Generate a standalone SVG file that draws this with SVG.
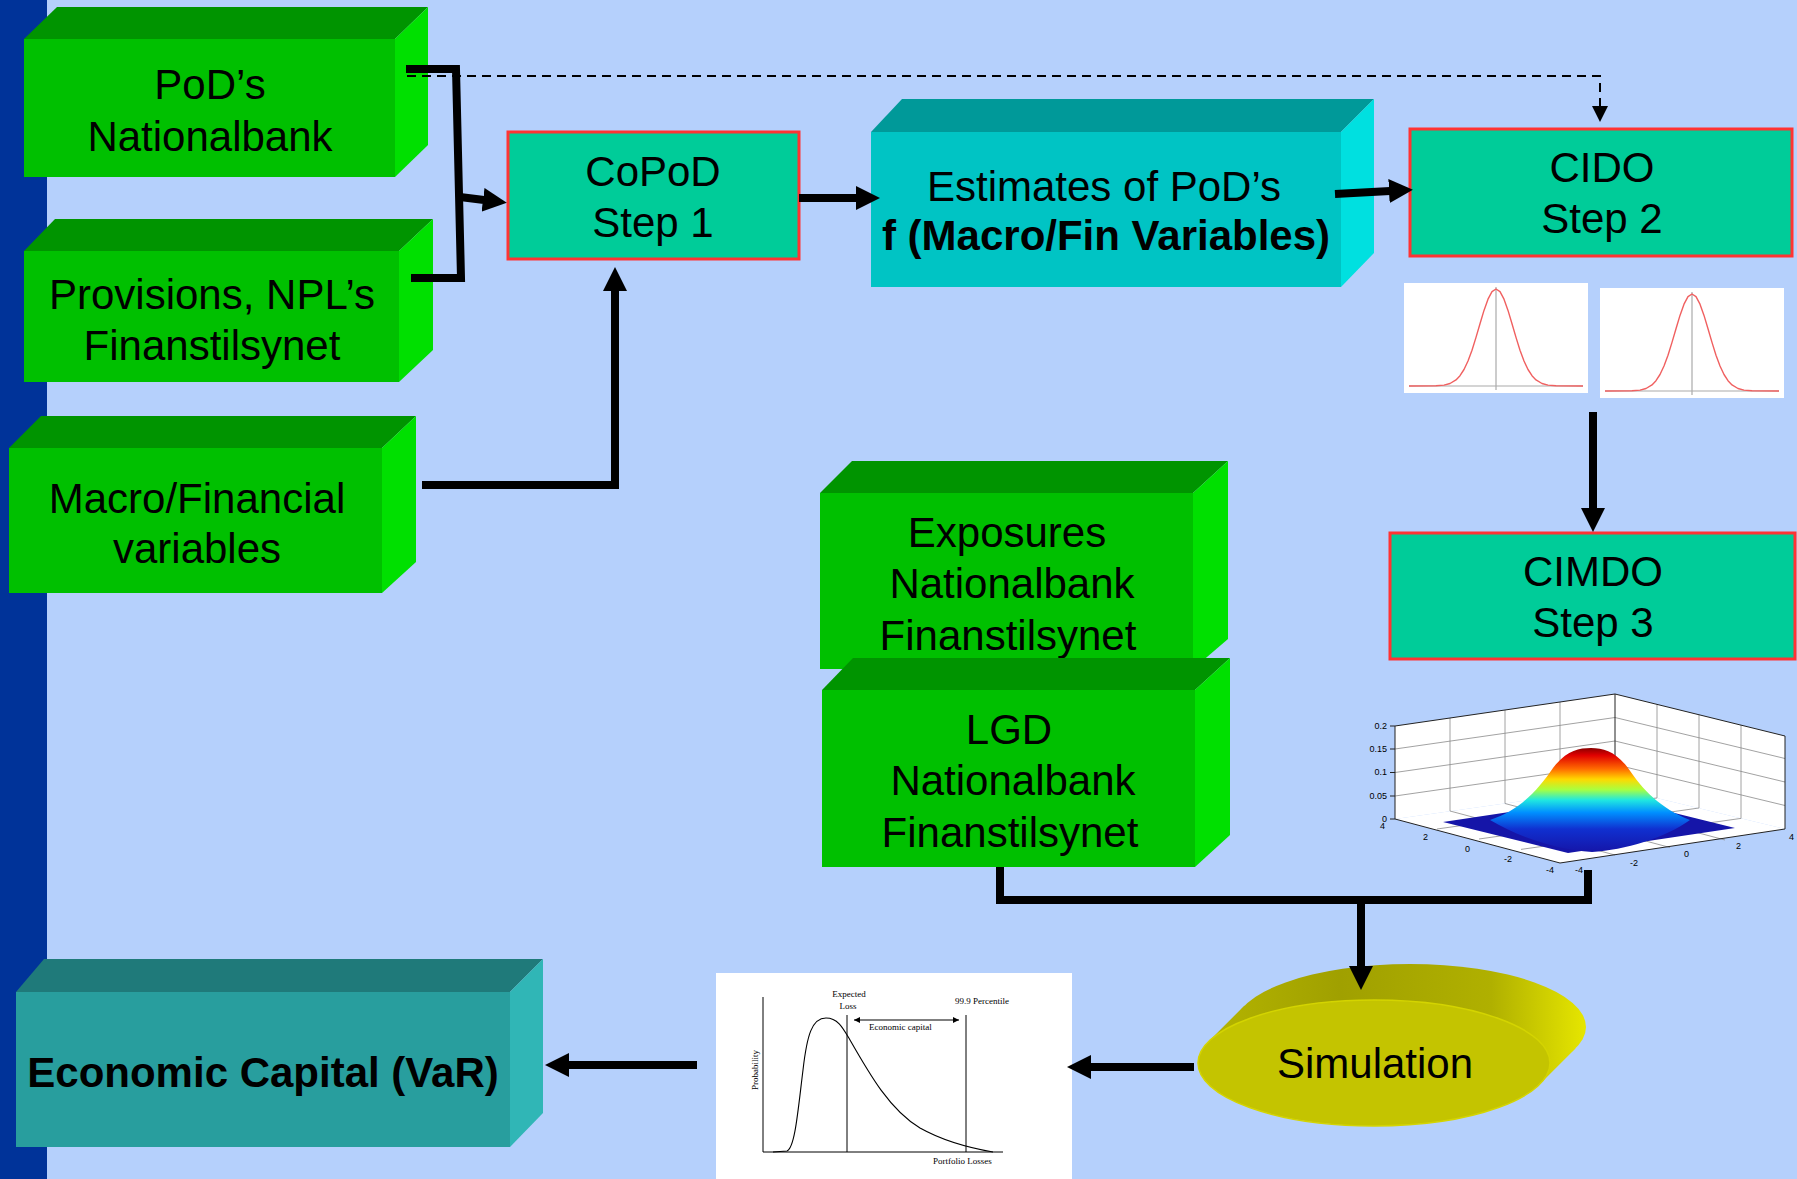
<svg xmlns="http://www.w3.org/2000/svg" width="1797" height="1179" viewBox="0 0 1797 1179">
<style>
  .t { font-family: "Liberation Sans", Arial, sans-serif; font-size: 42px; fill: #000; text-anchor: middle; }
  .b { font-weight: bold; }
  .gf { fill: #00C000; } .gt { fill: #009400; } .gr { fill: #00E000; }
  .cf { fill: #00C4C4; } .ct { fill: #009999; } .cr { fill: #00E0E0; }
  .ef { fill: #289E9E; } .et { fill: #1F7A7A; } .er { fill: #30B6B6; }
  .step { fill: #00CC99; stroke: #FF3333; stroke-width: 3; }
  .conn { fill: none; stroke: #000; stroke-width: 8; stroke-linejoin: miter; }
  .dash { fill: none; stroke: #000; stroke-width: 2; stroke-dasharray: 9 6; }
  .grid { stroke: #8a8a8a; stroke-width: 0.8; fill: none; }
  .axis { stroke: #222; stroke-width: 1; fill: none; }
  .tick { font-family: "Liberation Sans", Arial, sans-serif; font-size: 9px; fill: #000; }
  .ser { font-family: "Liberation Serif", "Times New Roman", serif; font-size: 9px; fill: #000; }
</style>
<defs>
  <marker id="ah" viewBox="0 0 24 24" refX="1" refY="12" markerWidth="24" markerHeight="24" markerUnits="userSpaceOnUse" orient="auto">
    <path d="M0,0 L24,12 L0,24 Z" fill="#000"/>
  </marker>
  <marker id="ahs" viewBox="0 0 16 16" refX="1" refY="8" markerWidth="16" markerHeight="16" markerUnits="userSpaceOnUse" orient="auto">
    <path d="M0,0 L16,8 L0,16 Z" fill="#000"/>
  </marker>
  <marker id="tiny" viewBox="0 0 6 6" refX="6" refY="3" markerWidth="6" markerHeight="6" markerUnits="userSpaceOnUse" orient="auto-start-reverse">
    <path d="M0,0 L6,3 L0,6 Z" fill="#000"/>
  </marker>
  <linearGradient id="simSide" x1="1208" y1="0" x2="1586" y2="0" gradientUnits="userSpaceOnUse">
    <stop offset="0" stop-color="#B4B400"/>
    <stop offset="0.35" stop-color="#A0A000"/>
    <stop offset="0.75" stop-color="#B0B000"/>
    <stop offset="1" stop-color="#E6E600"/>
  </linearGradient>
  <linearGradient id="jet" x1="0" y1="748" x2="0" y2="852" gradientUnits="userSpaceOnUse">
    <stop offset="0" stop-color="#8B0000"/>
    <stop offset="0.07" stop-color="#E00000"/>
    <stop offset="0.2" stop-color="#FF6A00"/>
    <stop offset="0.3" stop-color="#FFD800"/>
    <stop offset="0.4" stop-color="#A8FF40"/>
    <stop offset="0.5" stop-color="#20E8E0"/>
    <stop offset="0.62" stop-color="#0090FF"/>
    <stop offset="0.78" stop-color="#1030D0"/>
    <stop offset="1" stop-color="#1515A8"/>
  </linearGradient>
  <g id="bell">
    <rect x="0" y="0" width="184" height="110" fill="#fff"/>
    <line x1="5" y1="103" x2="179" y2="103" stroke="#aaa" stroke-width="1.2"/>
    <line x1="92" y1="4" x2="92" y2="107" stroke="#aaa" stroke-width="1.2"/>
    <polyline fill="none" stroke="#F06060" stroke-width="1.4" stroke-linejoin="round" points="5,103 32,102.8 40,102.1 46,100.5 52,96.9 56,92.7 60,86.5 64,78 68,67.2 72,54.4 76,40.7 80,27.4 84,16.2 88,8.6 92,6 96,8.6 100,16.2 104,27.4 108,40.7 112,54.4 116,67.2 120,78 124,86.5 128,92.7 132,96.9 138,100.5 144,102.1 152,102.8 179,103"/>
  </g>
</defs>

<rect x="0" y="0" width="1797" height="1179" fill="#B5D0FC"/>
<rect x="0" y="0" width="47" height="1179" fill="#003399"/>

<g id="node-pods">
  <polygon class="gt" points="24,39 57,7 428,7 395,39"/>
  <polygon class="gr" points="395,39 428,7 428,145 395,177"/>
  <rect class="gf" x="24" y="39" width="371" height="138"/>
  <text class="t" x="210" y="99">PoD’s</text>
  <text class="t" x="210" y="151">Nationalbank</text>
</g>

<g id="node-provisions">
  <polygon class="gt" points="24,251 55,219 433,219 399,251"/>
  <polygon class="gr" points="399,251 433,219 433,350 399,382"/>
  <rect class="gf" x="24" y="251" width="375" height="131"/>
  <text class="t" x="212" y="309">Provisions, NPL’s</text>
  <text class="t" x="212" y="360">Finanstilsynet</text>
</g>

<g id="node-macro">
  <polygon class="gt" points="9,448 41,416 416,416 382,448"/>
  <polygon class="gr" points="382,448 416,416 416,562 382,593"/>
  <rect class="gf" x="9" y="448" width="373" height="145"/>
  <text class="t" x="197" y="513">Macro/Financial</text>
  <text class="t" x="197" y="563">variables</text>
</g>

<g id="node-copod">
  <rect class="step" x="508" y="132" width="291" height="127"/>
  <text class="t" x="653" y="186">CoPoD</text>
  <text class="t" x="653" y="237">Step 1</text>
</g>

<g id="node-estimates">
  <polygon class="ct" points="871,132 902,99 1374,99 1341,132"/>
  <polygon class="cr" points="1341,132 1374,99 1374,253 1341,287"/>
  <rect class="cf" x="871" y="132" width="470" height="155"/>
  <text class="t" x="1104" y="201">Estimates of PoD’s</text>
  <text class="t b" x="1106" y="250">f (Macro/Fin Variables)</text>
</g>

<g id="node-cido">
  <rect class="step" x="1410" y="129" width="382" height="127"/>
  <text class="t" x="1602" y="182">CIDO</text>
  <text class="t" x="1602" y="233">Step 2</text>
</g>

<g id="node-bells">
  <use href="#bell" x="1404" y="283"/>
  <use href="#bell" x="1600" y="288"/>
</g>

<g id="node-cimdo">
  <rect class="step" x="1390" y="533" width="405" height="126"/>
  <text class="t" x="1593" y="586">CIMDO</text>
  <text class="t" x="1593" y="637">Step 3</text>
</g>

<g id="node-surface">
  <polygon fill="#fff" points="1395,726 1615,694 1615,788 1395,819"/>
  <polygon fill="#fff" points="1615,694 1785,736 1785,829 1615,788"/>
  <polygon fill="#fff" points="1395,819 1615,788 1785,829 1560,863"/>
  <g class="grid">
    <line x1="1450" y1="718" x2="1450" y2="811"/>
    <line x1="1505" y1="710" x2="1505" y2="803.5"/>
    <line x1="1560" y1="702" x2="1560" y2="796"/>
    <line x1="1395" y1="796" x2="1615" y2="764.5"/>
    <line x1="1395" y1="772.5" x2="1615" y2="741"/>
    <line x1="1395" y1="749" x2="1615" y2="717.5"/>
    <line x1="1657" y1="704.4" x2="1657" y2="798"/>
    <line x1="1699" y1="714.8" x2="1699" y2="808"/>
    <line x1="1741" y1="725" x2="1741" y2="818.4"/>
    <line x1="1615" y1="764.5" x2="1785" y2="805.5"/>
    <line x1="1615" y1="741" x2="1785" y2="782"/>
    <line x1="1615" y1="717.5" x2="1785" y2="758.5"/>
    <line x1="1450" y1="811" x2="1615" y2="855"/>
    <line x1="1505" y1="803.5" x2="1670" y2="847.5"/>
    <line x1="1560" y1="796" x2="1725" y2="840"/>
    <line x1="1657" y1="798" x2="1437" y2="829"/>
    <line x1="1699" y1="808" x2="1479" y2="839"/>
    <line x1="1741" y1="818.4" x2="1521" y2="849.4"/>
  </g>
  <g class="axis">
    <polyline points="1395,726 1615,694 1785,736"/>
    <line x1="1615" y1="694" x2="1615" y2="788"/>
    <line x1="1395" y1="726" x2="1395" y2="819"/>
    <line x1="1785" y1="736" x2="1785" y2="829"/>
    <polyline points="1395,819 1560,863 1785,829"/>
    <line x1="1390" y1="726" x2="1395" y2="726"/>
    <line x1="1390" y1="749" x2="1395" y2="749"/>
    <line x1="1390" y1="772.5" x2="1395" y2="772.5"/>
    <line x1="1390" y1="796" x2="1395" y2="796"/>
    <line x1="1390" y1="819" x2="1395" y2="819"/>
  </g>
  <polygon fill="#1515A8" points="1443,822 1610,797 1735,828 1568,853"/>
  <path fill="url(#jet)" d="M1490,820 C1520,810 1538,790 1553,768 C1566,751 1578,748 1591,748 C1604,748 1616,752 1628,768 C1643,790 1660,808 1690,820 C1665,838 1625,850 1592,852 C1558,850 1520,838 1490,820 Z"/>
  <text class="tick" x="1387" y="729" text-anchor="end">0.2</text>
  <text class="tick" x="1387" y="752" text-anchor="end">0.15</text>
  <text class="tick" x="1387" y="775" text-anchor="end">0.1</text>
  <text class="tick" x="1387" y="799" text-anchor="end">0.05</text>
  <text class="tick" x="1387" y="822" text-anchor="end">0</text>
  <text class="tick" x="1380" y="829">4</text>
  <text class="tick" x="1423" y="840">2</text>
  <text class="tick" x="1465" y="852">0</text>
  <text class="tick" x="1504" y="862">-2</text>
  <text class="tick" x="1546" y="873">-4</text>
  <text class="tick" x="1575" y="873">-4</text>
  <text class="tick" x="1630" y="866">-2</text>
  <text class="tick" x="1684" y="857">0</text>
  <text class="tick" x="1736" y="849">2</text>
  <text class="tick" x="1789" y="840">4</text>
</g>

<g id="node-exposures">
  <polygon class="gt" points="820,493 852,461 1228,461 1193,493"/>
  <polygon class="gr" points="1193,493 1228,461 1228,639 1193,669"/>
  <rect class="gf" x="820" y="493" width="373" height="176"/>
  <text class="t" x="1007" y="547">Exposures</text>
  <text class="t" x="1012" y="598">Nationalbank</text>
  <text class="t" x="1008" y="650">Finanstilsynet</text>
</g>

<g id="node-lgd">
  <polygon class="gt" points="822,690 853,658 1230,658 1195,690"/>
  <polygon class="gr" points="1195,690 1230,658 1230,835 1195,867"/>
  <rect class="gf" x="822" y="690" width="373" height="177"/>
  <text class="t" x="1009" y="744">LGD</text>
  <text class="t" x="1013" y="795">Nationalbank</text>
  <text class="t" x="1010" y="847">Finanstilsynet</text>
</g>

<g id="node-simulation">
  <ellipse cx="1410" cy="1027" rx="176" ry="63" fill="url(#simSide)"/>
  <polygon fill="url(#simSide)" points="1208.3,1041.8 1244.3,1005.8 1575.7,1048.2 1539.7,1084.2"/>
  <ellipse cx="1374" cy="1063" rx="176" ry="63" fill="#C4C400" stroke="#D4D400" stroke-width="1.5"/>
  <text class="t" x="1375" y="1078">Simulation</text>
</g>

<g id="node-losschart">
  <rect x="716" y="973" width="356" height="206" fill="#fff"/>
  <g fill="none" stroke="#000" stroke-width="1">
    <line x1="763" y1="997" x2="763" y2="1152"/>
    <line x1="763" y1="1152" x2="1003" y2="1152"/>
    <line x1="847" y1="1015" x2="847" y2="1152"/>
    <line x1="966" y1="1015" x2="966" y2="1152"/>
    <path stroke-width="1.1" d="M773,1152 L787,1151 C795,1148 798,1110 803,1070 C807,1035 812,1018 826,1018 C838,1018 843,1028 850,1040 C870,1075 890,1110 920,1128 C945,1142 970,1148 993,1152"/>
    <line x1="854" y1="1020" x2="959" y2="1020" marker-start="url(#tiny)" marker-end="url(#tiny)"/>
  </g>
  <text class="ser" x="849" y="997" text-anchor="middle">Expected</text>
  <text class="ser" x="848" y="1009" text-anchor="middle">Loss</text>
  <text class="ser" x="955" y="1004">99.9 Percentile</text>
  <text class="ser" x="869" y="1030">Economic  capital</text>
  <text class="ser" x="933" y="1164">Portfolio Losses</text>
  <text class="ser" transform="translate(758,1070) rotate(-90)" text-anchor="middle">Probability</text>
</g>

<g id="node-econcap">
  <polygon class="et" points="16,992 44,959 543,959 510,992"/>
  <polygon class="er" points="510,992 543,959 543,1113 510,1147"/>
  <rect class="ef" x="16" y="992" width="494" height="155"/>
  <text class="t b" x="263" y="1087">Economic Capital (VaR)</text>
</g>

<g id="connectors">
  <path class="dash" d="M407,76 H1600 V107" marker-end="url(#ahs)"/>
  <polyline class="conn" points="406,69 456,69 461,278 411,278"/>
  <path class="conn" d="M460,197 L484,200" marker-end="url(#ah)"/>
  <polyline class="conn" points="422,485 615,485 615,290" marker-end="url(#ah)"/>
  <path class="conn" d="M799,198 L857,198" marker-end="url(#ah)"/>
  <path class="conn" d="M1335,194 L1390,191" marker-end="url(#ah)"/>
  <path class="conn" d="M1593,412 L1593,509" marker-end="url(#ah)"/>
  <polyline class="conn" points="1000,867 1000,900 1588,900 1588,870"/>
  <path class="conn" d="M1361,900 L1361,967" marker-end="url(#ah)"/>
  <path class="conn" d="M1194,1067 L1090,1067" marker-end="url(#ah)"/>
  <path class="conn" d="M697,1065 L568,1065" marker-end="url(#ah)"/>
</g>
</svg>
